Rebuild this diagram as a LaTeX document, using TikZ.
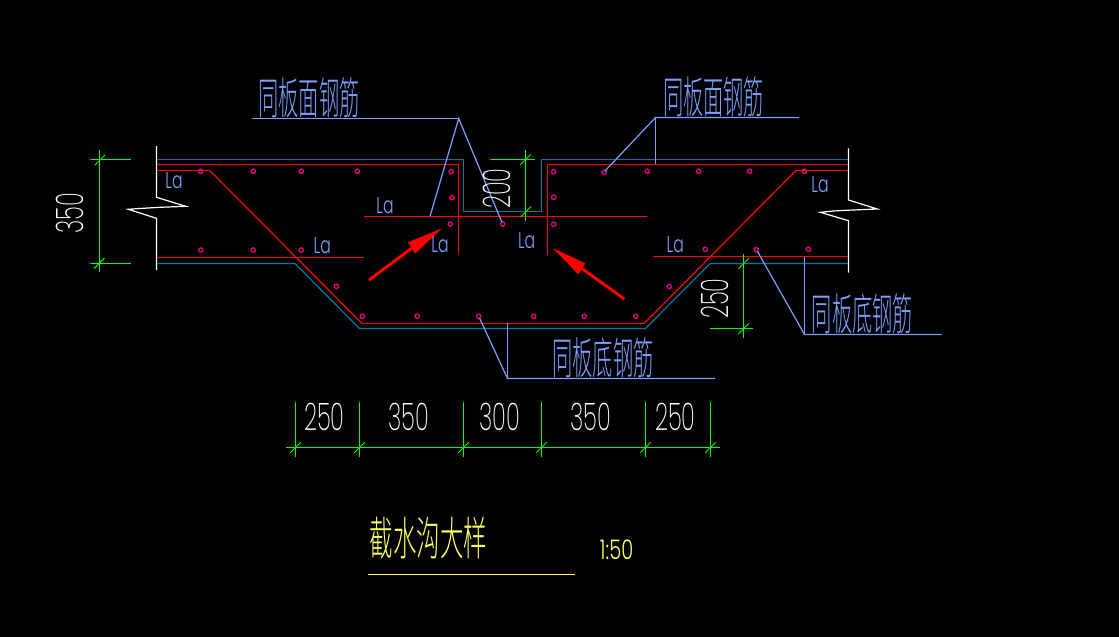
\documentclass[tikz,border=0pt]{standalone}
\usepackage{fontspec}
\setmainfont{Liberation Sans}
\newfontfamily\cjk{Noto Sans CJK SC Light}
\newfontfamily\thinf{Poppins}[UprightFont=* ExtraLight]
\newfontfamily\lightf{Poppins}[UprightFont=* Light]
\definecolor{cadblue}{HTML}{7F9FFF}
\definecolor{cadteal}{HTML}{0078A0}
\definecolor{cadyellow}{HTML}{FFFF66}
\tikzset{
  x=1pt,y=-1pt,
  redbar/.style={draw=red,line width=1.25pt},
  redthin/.style={draw=red,line width=1.2pt},
  tealbar/.style={draw=cadteal,line width=1.2pt},
  leader/.style={draw=cadblue,line width=1.2pt},
  dimline/.style={draw=green,line width=1.2pt},
  edgeline/.style={draw=white,line width=1.2pt},
  rebar/.style={draw=magenta,line width=1.2pt,fill=none},
  redarrow/.style={fill=red,draw=red,line width=.4pt},
  cjklabel/.style={text=cadblue,inner sep=0pt,font=\cjk\fontsize{44}{44}\selectfont,xscale=.46},
  titlelabel/.style={text=cadyellow,inner sep=0pt,font=\cjk\fontsize{46}{46}\selectfont,xscale=.51},
  dimtext/.style={text=white,inner sep=0pt,font=\thinf\fontsize{38}{38}\selectfont,xscale=.6},
  lalabel/.style={text=cadblue,inner sep=0pt,font=\lightf\fontsize{23}{23}\selectfont,xscale=.68},
  scaletext/.style={text=cadyellow,inner sep=0pt,font=\lightf\fontsize{27}{27}\selectfont,xscale=.72},
}
\newcommand{\tickmark}[2]{\draw[dimline,line width=1pt] (#1-5.2,#2+5.2) -- (#1+5.2,#2-5.2);}
\begin{document}
\begin{tikzpicture}
\useasboundingbox[fill=black] (0,0) rectangle (1119,637);
% edges
\draw[edgeline] (156.5,146) -- (156.5,197.3) -- (185.7,206.3) -- (160,207.3) -- (138,208.6) -- (128.3,209.3) -- (156.5,218.3) -- (156.5,270);
\draw[edgeline] (848.5,148.3) -- (848.5,200) -- (877.3,209) -- (846,210.3) -- (833.3,211) -- (820.3,212.3) -- (848.5,220.7) -- (848.5,272.7);
% teal outline
\draw[tealbar] (157,159.5) -- (463.5,159.5) -- (463.5,211.5) -- (541.5,211.5) -- (541.5,159.5) -- (848,159.5);
\draw[tealbar] (157,263.5) -- (295,263.5) -- (359.5,328.5) -- (645.5,328.5) -- (710,263.5) -- (848,263.5);
% red bars
\draw[redbar] (157,164.5) -- (458.5,164.5) -- (458.5,253.5);
\draw[redbar] (547.5,254.5) -- (547.5,164.5) -- (848,164.5);
\draw[redbar] (157,170.5) -- (209.7,170.5);
\draw[redthin] (209.7,170.5) -- (362,323.5);
\draw[redbar] (362,323.5) -- (644,323.5);
\draw[redthin] (644,323.5) -- (796,170.5);
\draw[redbar] (796,170.5) -- (848,170.5);
\draw[redbar] (157,257.5) -- (364,257.5);
\draw[redbar] (364,216.5) -- (646.7,216.5);
\draw[redbar] (653.3,256.5) -- (848,256.5);
% rebar dots
\foreach \px/\py in {200.7/171.3,253.3/171.3,301.3/171.3,357.3/171.3,451.3/171.7,452/197.7,450.3/224,
  200.7/250,253.3/250,301.3/250,336.3/286.3,502.7/224,553.7/171.7,553.7/197.3,553.7/224.3,
  604/172.3,647.3/171.3,698.7/171.3,749.7/171.3,804.3/171.3,705.3/249.3,756.3/249.7,808.3/249.3,669.3/286.5,
  362.3/316.3,417.3/316.3,478.7/316.3,533.7/316.3,584.3/316.3,635.7/316.3}
  {\draw[rebar] (\px,\py) circle (2.2);}
% leaders
\draw[leader] (252,118.5) -- (458.7,118.5);
\draw[leader] (430,216.3) -- (458.7,118.5) -- (501.8,222);
\draw[leader] (799,117.5) -- (655.5,117.5) -- (605,171);
\draw[leader] (655.5,117.5) -- (655.5,164.3);
\draw[leader] (941.7,334.5) -- (804.5,334.5) -- (757.5,251.5);
\draw[leader] (804.5,334.5) -- (804.5,256.7);
\draw[leader] (715,378.5) -- (507.5,378.5) -- (479.5,318);
\draw[leader] (507.5,378.5) -- (507.5,323.3);
% dimensions
\draw[dimline] (99.5,150) -- (99.5,272.3);
\draw[dimline] (90,159.5) -- (131,159.5);
\draw[dimline] (90,263.5) -- (131,263.5);
\tickmark{100}{160}
\tickmark{99.3}{263.3}
\draw[dimline] (525.5,150) -- (525.5,220.7);
\draw[dimline] (490,159.5) -- (535,159.5);
\tickmark{525.5}{159.5}
\tickmark{525.8}{211.7}
\draw[dimline] (743.5,254) -- (743.5,337.7);
\draw[dimline] (710,328.5) -- (752.7,328.5);
\tickmark{743.6}{263.6}
\tickmark{743.6}{328.6}
\draw[dimline] (286,447.5) -- (720,447.5);
\foreach \px in {295.5,359.5,463.5,541.5,645.5,710.5}{
  \draw[dimline] (\px,402) -- (\px,456.7);
  \tickmark{\px}{447.5}
}
% arrows
\draw[redbar,line width=3pt] (369,280) -- (412,248);
\fill[redarrow] (440.7,229.3) -- (408.3,242.3) -- (415,253.3) -- cycle;
\draw[redbar,line width=3pt] (624.3,299) -- (581.7,268.3);
\fill[redarrow] (554,249) -- (585,263.3) -- (578.3,274) -- cycle;
% texts
\node[cjklabel] (tl) at (309,98.3) {同板面钢筋};
\node[cjklabel] (tr) at (713.6,97.3) {同板面钢筋};
\node[cjklabel] (br) at (862.5,314) {同板底钢筋};
\node[cjklabel] (bm) at (603,358) {同板底钢筋};
\node[titlelabel] (title) at (428.6,537.8) {截水沟大样};
\node[scaletext] (scale) at (616.6,549.5) {1:50};
\draw[draw=cadyellow,line width=1.2pt] (368,574.5) -- (575,574.5);
\node[rotate=90,dimtext] (d350v) at (70,213.5) {350};
\node[rotate=90,dimtext] (d200) at (496.7,188.7) {200};
\node[rotate=90,dimtext] (d250v) at (714.7,298.7) {250};
\node[dimtext] (a) at (324.3,417.3) {250};
\node[dimtext] (b) at (408.7,417.3) {350};
\node[dimtext] (c) at (500,417.3) {300};
\node[dimtext] (d) at (590.7,417.3) {350};
\node[dimtext] (e) at (675.3,417.3) {250};
\node[lalabel] (la1) at (174,181) {La};
\node[lalabel] (la2) at (385,205.7) {La};
\node[lalabel] (la3) at (322.3,245.7) {La};
\node[lalabel] (la4) at (440,244.3) {La};
\node[lalabel] (la5) at (526.7,241) {La};
\node[lalabel] (la6) at (820,184.3) {La};
\node[lalabel] (la7) at (675.3,245) {La};
\end{tikzpicture}
\end{document}
